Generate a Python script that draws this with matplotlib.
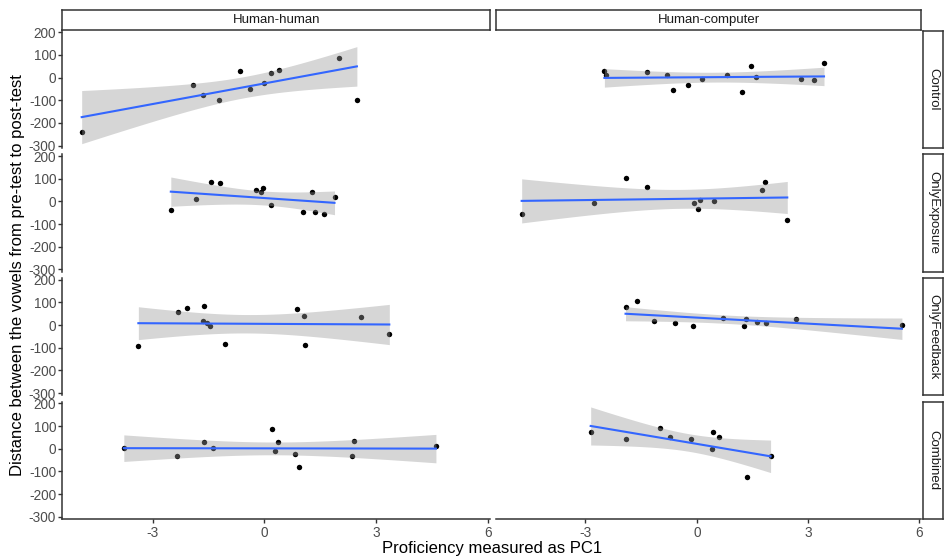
import numpy as np
import matplotlib
matplotlib.use("Agg")
import matplotlib.pyplot as plt

plt.rcParams['font.family'] = ['Liberation Sans', 'DejaVu Sans']
plt.rcParams['axes.unicode_minus'] = False

# facet labels
cols = ["Human-human", "Human-computer"]
rows = ["Control", "OnlyExposure", "OnlyFeedback", "Combined"]

# data (x = PC1, y = distance)
hh_control_x = [-4.90, -1.92, -1.66, -1.21, -0.65, -0.38, -0.02, 0.17, 0.40, 1.99, 2.48]
hh_control_y = [-242, -33, -75, -99, 28, -52, -25, 20, 35, 86, -97]
hc_control_x = [-2.49, -2.45, -1.35, -0.81, -0.65, -0.23, 0.13, 0.82, 1.21, 1.47, 1.59, 2.81, 3.16, 3.43]
hc_control_y = [31, 11, 25, 11, -56, -34, -4, 10, -62, 50, 4, -7, -12, 63]

hh_exposure_x = [-2.51, -1.84, -1.44, -1.20, -0.22, -0.09, -0.05, 0.19, 1.04, 1.28, 1.36, 1.60, 1.88]
hh_exposure_y = [-40, 9, 87, 81, 52, 43, 59, -15, -45, 41, -48, -56, 21]
hc_exposure_x = [-4.72, -2.78, -1.92, -1.33, -0.08, 0.02, 0.09, 0.46, 1.77, 1.83, 2.44]
hc_exposure_y = [-56, -7, 101, 65, -7, -35, 6, 1, 50, 85, -81]

hh_feedback_x = [-3.38, -2.31, -2.07, -1.66, -1.62, -1.55, -1.46, -1.05, 0.87, 1.06, 1.10, 2.60, 3.35]
hh_feedback_y = [-94, 57, 75, 16, 82, 10, -6, -84, 69, 42, -90, 35, -38]
hc_feedback_x = [-1.92, -1.61, -1.16, -0.60, -0.09, 0.72, 1.27, 1.34, 1.63, 1.86, 2.68, 5.53]
hc_feedback_y = [78, 104, 16, 10, -3, 31, -4, 26, 15, 9, 26, 0]

hh_combined_x = [-3.77, -2.34, -1.62, -1.38, 0.20, 0.28, 0.36, 0.82, 0.94, 2.35, 2.40, 4.60]
hh_combined_y = [3, -30, 31, 3, 85, -12, 29, -25, -79, -31, 35, 10]
hc_combined_x = [-2.86, -1.90, -0.98, -0.71, -0.16, 0.40, 0.44, 0.61, 1.36, 1.99]
hc_combined_y = [73, 41, 92, 50, 41, -2, 72, 54, -126, -30]

panels = [
    [(hh_control_x, hh_control_y), (hc_control_x, hc_control_y)],
    [(hh_exposure_x, hh_exposure_y), (hc_exposure_x, hc_exposure_y)],
    [(hh_feedback_x, hh_feedback_y), (hc_feedback_x, hc_feedback_y)],
    [(hh_combined_x, hh_combined_y), (hc_combined_x, hc_combined_y)],
]

yticks = [-300, -200, -100, 0, 100, 200]
xticks = [-3, 0, 3, 6]

# t quantiles (0.975) by degrees of freedom
t975 = {8: 2.306, 9: 2.262, 10: 2.228, 11: 2.201, 12: 2.179, 13: 2.160}

W, H = 945, 558
fig = plt.figure(figsize=(W / 100, H / 100), dpi=100)


def box(x0, top, w, h):
    return [x0 / W, 1 - (top + h) / H, w / W, h / H]


col_x = [62.3, 495.7]
col_w = [427.7, 425.5]
row_top0 = 30.5
row_step = 123.7
row_h = 117.4

axcol = '#333333'
txtcol = '#4D4D4D'


def smooth(ax, x, y):
    x = np.asarray(x, float)
    y = np.asarray(y, float)
    n = len(x)
    b, a = np.polyfit(x, y, 1)
    res = y - (a + b * x)
    s = np.sqrt(np.sum(res ** 2) / (n - 2))
    sxx = np.sum((x - x.mean()) ** 2)
    xs = np.linspace(x.min(), x.max(), 80)
    fit = a + b * xs
    se = s * np.sqrt(1 / n + (xs - x.mean()) ** 2 / sxx)
    t = t975[n - 2]
    ax.fill_between(xs, fit - t * se, fit + t * se, color='#999999', alpha=0.4, linewidth=0, zorder=3)
    ax.plot(xs, fit, color='#3366FF', linewidth=1.5, zorder=4)


for r in range(4):
    top = row_top0 + r * row_step
    for c in range(2):
        ax = fig.add_axes(box(col_x[c], top, col_w[c], row_h))
        x, y = panels[r][c]
        ax.plot(x, y, 'o', color='black', markersize=3.9, markeredgewidth=0, zorder=2)
        smooth(ax, x, y)
        ax.set_xlim(-5.42, 6.05)
        ax.set_ylim(-310, 208)
        for sp in ax.spines.values():
            sp.set_visible(False)
        ax.set_xticks(xticks)
        ax.set_yticks(yticks)
        ax.tick_params(colors=axcol, labelcolor=txtcol, labelsize=9.8, length=3, width=1)
        if c == 0:
            ax.spines['left'].set_visible(True)
            ax.spines['left'].set_color(axcol)
            ax.spines['left'].set_linewidth(1.1)
            ax.tick_params(axis='y', pad=1.5)
        else:
            ax.tick_params(axis='y', left=False, labelleft=False)
        if r == 3:
            ax.spines['bottom'].set_visible(True)
            ax.spines['bottom'].set_color(axcol)
            ax.spines['bottom'].set_linewidth(1.1)
            ax.tick_params(axis='x', pad=2)
        else:
            ax.tick_params(axis='x', bottom=False, labelbottom=False)

# top strips
for c in range(2):
    sax = fig.add_axes(box(col_x[c], 9.7, col_w[c], 20.6))
    sax.set_xticks([])
    sax.set_yticks([])
    for sp in sax.spines.values():
        sp.set_color(axcol)
        sp.set_linewidth(1.1)
    sax.text(0.5, 0.5, cols[c], ha='center', va='center', fontsize=9.5, color='#1A1A1A',
             transform=sax.transAxes)

# right strips
for r in range(4):
    top = row_top0 + r * row_step
    sax = fig.add_axes(box(923.5, top, 19.5, row_h))
    sax.set_xticks([])
    sax.set_yticks([])
    for sp in sax.spines.values():
        sp.set_color(axcol)
        sp.set_linewidth(1.1)
    sax.text(0.5, 0.5, rows[r], ha='center', va='center', rotation=-90, fontsize=9.5,
             color='#1A1A1A', transform=sax.transAxes)

fig.text(18 / W, 1 - 275 / H, "Distance between the vowels from pre-test to post-test",
         rotation=90, ha='center', va='center', fontsize=12)
fig.text(491.7 / W, 1 - 548 / H, "Proficiency measured as PC1", ha='center', va='center', fontsize=12)

fig.savefig("out.png", dpi=100)
